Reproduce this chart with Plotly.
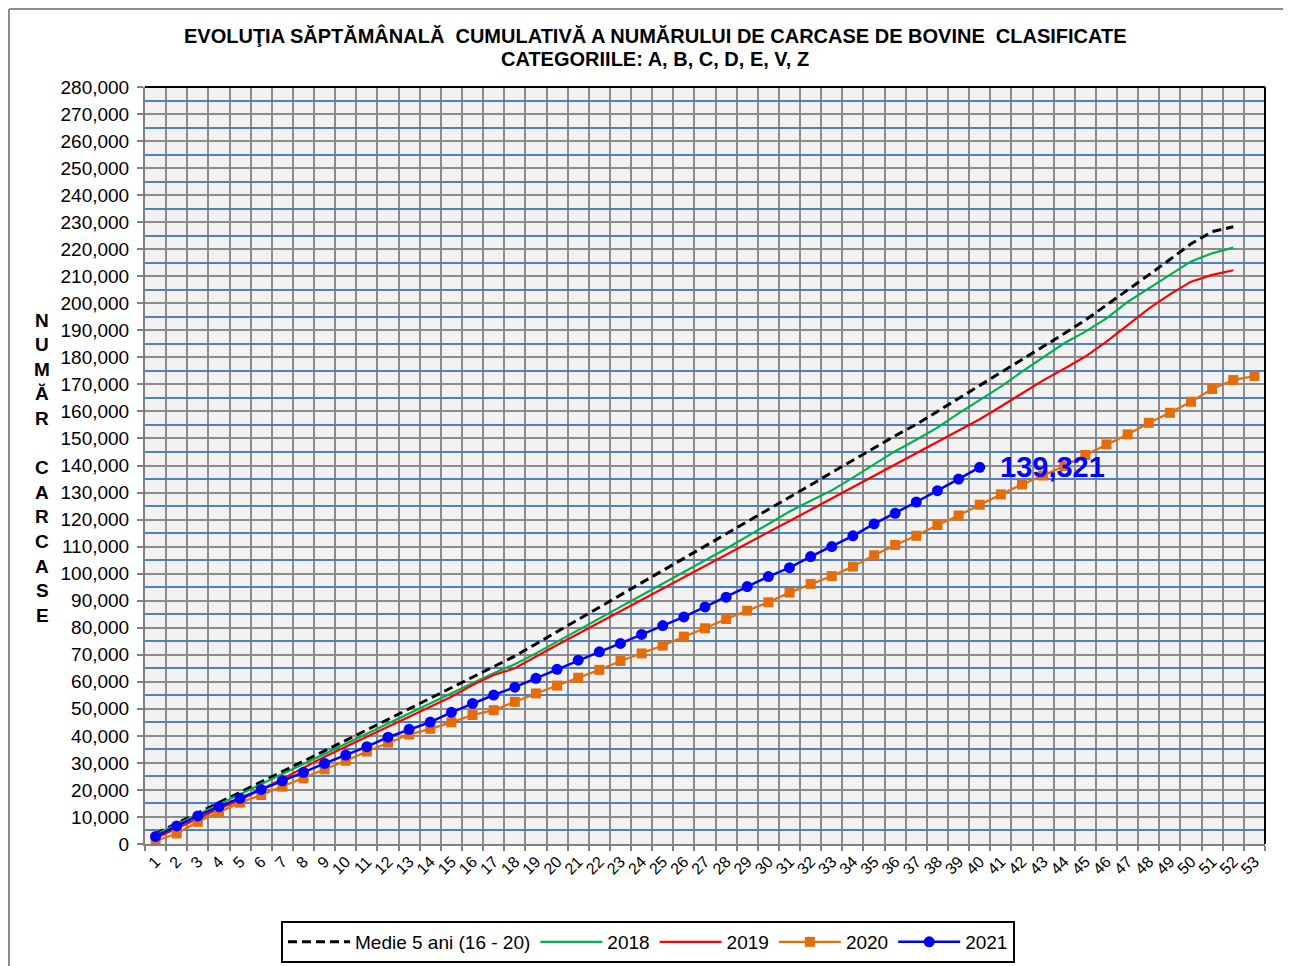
import plotly.graph_objects as go

weeks = list(range(1, 54))
week_labels = [str(w) for w in weeks]

avg5 = [3800, 7600, 11400, 15200, 19000, 22800, 26700, 30500, 34400, 38300,
        42200, 46100, 50000, 53900, 57800, 61700, 65600, 69500, 74000, 78500,
        83000, 87500, 92000, 96500, 101000, 105500, 110000, 114600, 119200, 123700,
        128200, 132800, 137400, 142000, 146500, 151000, 155200, 160000, 164600, 169300,
        174100, 179000, 183900, 188800, 193800, 199300, 204900, 210500, 216200, 222000,
        226500, 228300]
y2018 = [3500, 7200, 10900, 14600, 18300, 22000, 25800, 29600, 33300, 37000,
         40800, 44600, 48400, 52200, 55800, 59500, 63200, 66500, 70500, 74800,
         79000, 83200, 87500, 91800, 96000, 100300, 104700, 109200, 113800, 118500,
         123000, 127000, 130800, 135500, 140500, 145300, 149500, 154000, 159300, 164200,
         169200, 174700, 180000, 185200, 189500, 194400, 200500, 205500, 210500, 215500,
         218500, 220600]
y2019 = [2100, 5800, 9500, 13000, 16300, 20000, 24000, 28200, 32300, 36000,
         39700, 43400, 47100, 50800, 54500, 58800, 62500, 65000, 69400, 73600,
         77800, 82000, 86200, 90300, 94400, 98600, 102800, 107000, 111200, 115300,
         119500, 123600, 127800, 132000, 136200, 140400, 144500, 148700, 152900, 157100,
         161800, 166800, 171500, 175800, 180300, 185800, 192000, 198000, 203300, 208000,
         210500, 212200]
y2020 = [1100, 3900, 8200, 11900, 15300, 18100, 21200, 24300, 27600, 30800,
         34200, 37500, 40500, 42600, 45000, 47700, 49500, 52600, 55700, 58600,
         61500, 64400, 67700, 70500, 73400, 76700, 79800, 83200, 86300, 89400,
         93000, 96200, 99100, 102600, 106800, 110600, 114000, 118000, 121500, 125500,
         129300, 133000, 136300, 139800, 143900, 147800, 151500, 155800, 159500, 163600,
         168300, 171600, 173100]
y2021 = [2800, 6700, 10400, 13800, 16900, 20200, 23400, 26500, 29800, 32900,
         36000, 39500, 42400, 45100, 48700, 52000, 55100, 58000, 61300, 64600,
         68000, 71100, 74200, 77500, 80800, 84000, 87700, 91300, 95200, 98900,
         102200, 106300, 110000, 114000, 118400, 122300, 126500, 130700, 135000, 139321]

series_names = ["Medie 5 ani (16 - 20)", "2018", "2019", "2020", "2021"]
title_line1 = "EVOLUŢIA SĂPTĂMÂNALĂ  CUMULATIVĂ A NUMĂRULUI DE CARCASE DE BOVINE  CLASIFICATE"
title_line2 = "CATEGORIILE: A, B, C, D, E, V, Z"
y_title = "NUMĂR CARCASE"

FONT = "Arial, Liberation Sans, sans-serif"
OFF = 8  # page body margin
W, H = 1291 - OFF, 966 - OFF
# target plot area in page px: x 145..1265, y 87..844
L, T = 145 - OFF, 87 - OFF
R = W - (1265 - OFF)
B = H - (844 - OFF)
PW, PH = W - L - R, H - T - B

def px_x(x):  # page px -> paper
    return (x - OFF - L) / PW

def px_y(y):
    return (H - B - (y - OFF)) / PH

fig = go.Figure()
fig.add_trace(go.Scatter(x=weeks[:len(avg5)], y=avg5, name=series_names[0], mode="lines",
                         line=dict(color="black", width=3, dash="9px,5px")))
fig.add_trace(go.Scatter(x=weeks[:len(y2018)], y=y2018, name=series_names[1], mode="lines",
                         line=dict(color="#00b050", width=2.2)))
fig.add_trace(go.Scatter(x=weeks[:len(y2019)], y=y2019, name=series_names[2], mode="lines",
                         line=dict(color="#ff0000", width=2.2)))
fig.add_trace(go.Scatter(x=weeks[:len(y2020)], y=y2020, name=series_names[3], mode="lines+markers",
                         line=dict(color="#e46c0a", width=2.2),
                         marker=dict(symbol="square", size=10, color="#e46c0a")))
fig.add_trace(go.Scatter(x=weeks[:len(y2021)], y=y2021, name=series_names[4], mode="lines+markers",
                         line=dict(color="#0000ff", width=2.5),
                         marker=dict(symbol="circle", size=11, color="#0000ff")))

ymax = 280000
fig.update_layout(
    width=W, height=H,
    margin=dict(l=L, r=R, t=T, b=B, autoexpand=False),
    paper_bgcolor="white",
    plot_bgcolor="#f2f2f2",
    font=dict(family=FONT, color="black"),
    showlegend=True,
    legend=dict(orientation="h", x=px_x(648), xanchor="center", y=px_y(963), yanchor="bottom",
                bgcolor="white", bordercolor="black", borderwidth=2,
                font=dict(size=19, family=FONT), itemwidth=62, traceorder="normal"),
    xaxis=dict(
        range=[0.5, 53.5], tickmode="array", tickvals=weeks, ticktext=week_labels,
        tickangle=-45, tickfont=dict(size=16, family=FONT), showgrid=False,
        ticks="", zeroline=False, showline=True, linecolor="#808080", linewidth=2,
        minor=dict(tickvals=[w + 0.5 for w in range(0, 54)], showgrid=True,
                   gridcolor="#8c8c8c", gridwidth=2, ticks="outside", ticklen=5,
                   tickcolor="#808080", tickwidth=1.5),
    ),
    yaxis=dict(
        range=[0, ymax], tickmode="array", tickvals=list(range(0, ymax + 1, 10000)),
        tickformat=",d", tickfont=dict(size=19, family=FONT), showgrid=True,
        gridcolor="#8c8c8c", gridwidth=2, ticks="outside", ticklen=6, ticklabelstandoff=4,
        tickcolor="#808080", tickwidth=1.5, zeroline=False, showline=True,
        linecolor="#808080", linewidth=2,
        minor=dict(tickvals=list(range(5000, ymax, 10000)), showgrid=True,
                   gridcolor="#4f81bd", gridwidth=2, ticks=""),
    ),
)

# black top & right frame of plot area
fig.add_shape(type="line", xref="paper", yref="paper", x0=0, x1=1, y0=1, y1=1,
              line=dict(color="black", width=2))
fig.add_shape(type="line", xref="paper", yref="paper", x0=1, x1=1, y0=0, y1=1,
              line=dict(color="black", width=2))
# outer chart border (left & top)
fig.add_shape(type="line", xref="paper", yref="paper", x0=px_x(9), x1=px_x(9), y0=px_y(9), y1=px_y(966),
              line=dict(color="#8c8c8c", width=2))
fig.add_shape(type="line", xref="paper", yref="paper", x0=px_x(9), x1=px_x(1291), y0=px_y(9), y1=px_y(9),
              line=dict(color="#8c8c8c", width=2))

# title
fig.add_annotation(text="<b>" + title_line1 + "</b>", xref="paper", yref="paper",
                   x=px_x(655), y=px_y(36), xanchor="center", yanchor="middle",
                   showarrow=False, font=dict(size=20, family=FONT, color="black"))
fig.add_annotation(text="<b>" + title_line2 + "</b>", xref="paper", yref="paper",
                   x=px_x(655), y=px_y(59), xanchor="center", yanchor="middle",
                   showarrow=False, font=dict(size=20, family=FONT, color="black"))

# vertical y-axis title, letter by letter
y0_letter, step = 320, 24.6
for i, ch in enumerate(y_title):
    if ch == " ":
        continue
    fig.add_annotation(text="<b>" + ch + "</b>", xref="paper", yref="paper",
                       x=px_x(42), y=px_y(y0_letter + i * step), xanchor="center", yanchor="middle",
                       showarrow=False, font=dict(size=19, family=FONT, color="black"))

# last value label
fig.add_annotation(text="<b>" + f"{y2021[-1]:,}" + "</b>", x=len(y2021), y=y2021[-1],
                   xref="x", yref="y", xanchor="left", yanchor="middle", xshift=18,
                   showarrow=False, font=dict(size=29, family=FONT, color="#0000ff"))

fig.write_html("out.html")
